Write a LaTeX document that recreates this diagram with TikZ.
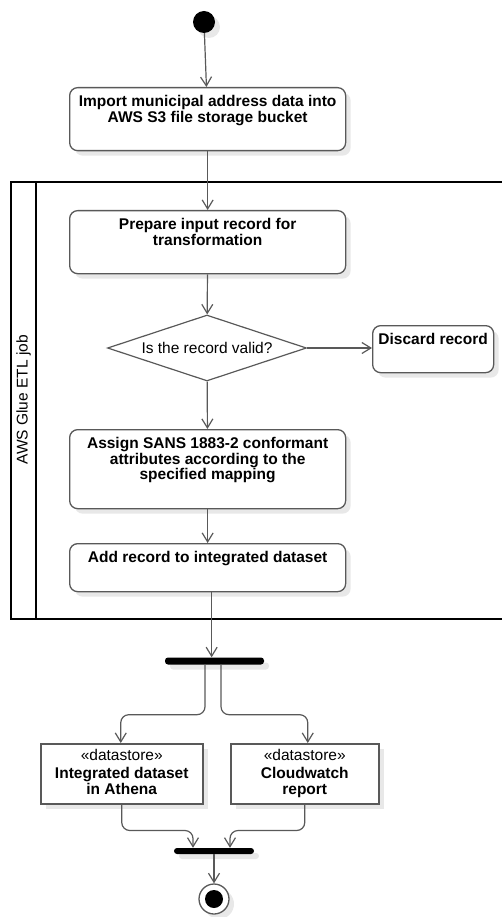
\documentclass[tikz,border=0pt]{standalone}
\usepackage{fontspec}
\setmainfont{Liberation Sans}
\usetikzlibrary{arrows.meta,shapes.geometric,shadows,calc}
\begin{document}
\begin{tikzpicture}[x=1pt,y=-1pt,
  softshadow/.style={drop shadow={shadow xshift=5pt,shadow yshift=-5pt,fill=black!9,opacity=1}},
  act/.style={draw=black!65,line width=1.3pt,rounded corners=8pt,fill=white,softshadow,inner sep=0,anchor=north west},
  store/.style={draw=black!65,line width=1.5pt,fill=white,softshadow,inner sep=0,anchor=north west},
  btxt/.style={anchor=north,font=\fontsize{15.5}{15.6}\selectfont\bfseries,align=center,inner sep=0},
  rtxt/.style={font=\fontsize{15.5}{15.6}\selectfont,align=center,inner sep=0},
  bar/.style={fill=black,rounded corners=3pt,inner sep=0,softshadow},
  conn/.style={draw=black!65,line width=1.2pt,-{Straight Barb[length=9pt,width=11pt]}},
  pool/.style={draw=black,line width=2pt}
]
\useasboundingbox (0,0) rectangle (502,917);

% swimlane
\draw[pool] (504,182) -- (11,182) -- (11,619) -- (504,619);
\draw[pool] (36,182) -- (36,619);
\node[rtxt,rotate=90] (lane) at (23.5,400) {AWS Glue ETL job};

% start
\node[circle,fill=black,minimum size=22pt,inner sep=0,softshadow] (s) at (204,22) {};

% activities
\node[act,minimum width=276pt,minimum height=63pt] (a1) at (69,87) {};
\node[btxt] (a1t) at ([yshift=-8pt]a1.north) {Import municipal address data into\\AWS S3 file storage bucket};

\node[act,minimum width=276pt,minimum height=63pt] (a2) at (69,210) {};
\node[btxt] (a2t) at ([yshift=-8pt]a2.north) {Prepare input record for\\transformation};

\node[diamond,aspect=3.1,draw=black!65,line width=1.2pt,fill=white,minimum width=199pt,minimum height=66pt,inner sep=0,font=\fontsize{15.5}{15.6}\selectfont] (d) at (207,348) {Is the record valid?};

\node[act,minimum width=121pt,minimum height=47pt] (disc) at (372,325) {};
\node[btxt] (disct) at ([yshift=-8.5pt]disc.north) {Discard record};

\node[act,minimum width=276pt,minimum height=79pt] (a3) at (69,429) {};
\node[btxt] (a3t) at ([yshift=-8pt]a3.north) {Assign SANS 1883-2 conformant\\attributes according to the\\specified mapping};

\node[act,minimum width=276pt,minimum height=48pt] (a4) at (69,543) {};
\node[btxt] (a4t) at ([yshift=-8pt]a4.north) {Add record to integrated dataset};

% fork
\node[bar,minimum width=99pt,minimum height=7pt] (fork) at (214.5,661) {};

% datastores
\node[store,minimum width=162pt,minimum height=60pt] (ds1) at (40,743) {};
\node[rtxt,anchor=north] (ds1t) at ([yshift=-6pt]ds1.north) {«datastore»\\[2.4pt]\textbf{Integrated dataset}\\\textbf{in Athena}};
\node[store,minimum width=148pt,minimum height=60pt] (ds2) at (230,743) {};
\node[rtxt,anchor=north] (ds2t) at ([yshift=-6pt]ds2.north) {«datastore»\\[2.4pt]\textbf{Cloudwatch}\\\textbf{report}};

% join
\node[bar,minimum width=80pt,minimum height=6pt] (join) at (214,851) {};

% end
\node[circle,draw=black!65,line width=1.3pt,fill=white,minimum size=30pt,inner sep=0,softshadow] (e) at (214,899) {};
\node[circle,fill=black,minimum size=18pt,inner sep=0] (ei) at (e) {};

% connectors
\draw[conn] (s) -- (a1);
\draw[conn] (a1) -- (a2);
\draw[conn] (a2) -- (d);
\draw[conn] (d.east) -- (d.east -| disc.west);
\draw[conn] (d) -- (a3);
\draw[conn] (a3) -- (a4);
\draw[conn] ([xshift=4pt]a4.south) -- ([xshift=4pt]a4.south |- fork.north);
\draw[conn,rounded corners=8pt] ([xshift=-9.5pt]fork.south) -- ++(0,50) -| ([xshift=-1pt]ds1.north);
\draw[conn,rounded corners=8pt] ([xshift=6.5pt]fork.south) -- ++(0,50) -| ([xshift=3pt]ds2.north);
\draw[conn,rounded corners=8pt] (ds1.south) -- ++(0,26) -| ([xshift=-21pt]join.north);
\draw[conn,rounded corners=8pt] (ds2.south) -- ++(0,26) -| ([xshift=16pt]join.north);
\draw[conn] (join) -- (e);
\end{tikzpicture}
\end{document}
